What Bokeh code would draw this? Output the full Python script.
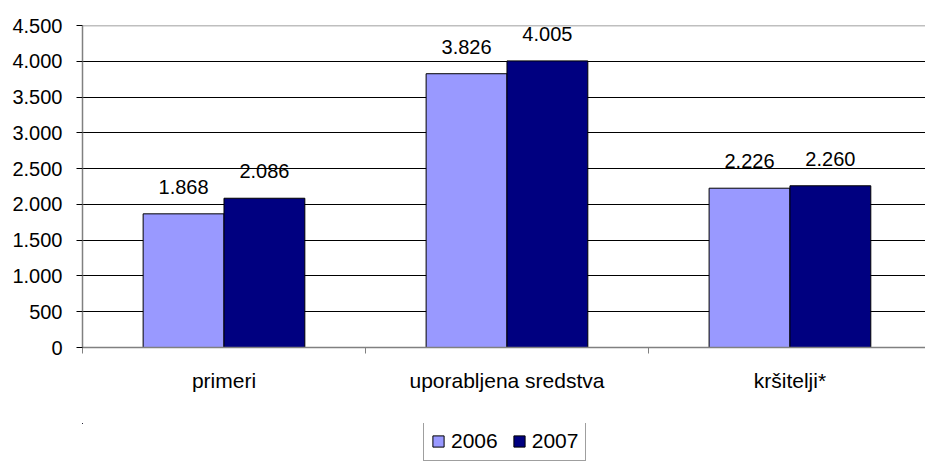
from bokeh.plotting import figure
from bokeh.models import (ColumnDataSource, FixedTicker, Range1d, LabelSet,
                          Legend, LegendItem, Span)
from bokeh.layouts import column
from bokeh.core.properties import value
from bokeh.embed import file_html
from bokeh.resources import INLINE

categories = ["primeri", "uporabljena sredstva", "kršitelji*"]
series_names = ["2006", "2007"]
values_2006 = [1868, 3826, 2226]
values_2007 = [2086, 4005, 2260]
y_ticks = [0, 500, 1000, 1500, 2000, 2500, 3000, 3500, 4000, 4500]
y_tick_labels = ["0", "500", "1.000", "1.500", "2.000", "2.500", "3.000",
                 "3.500", "4.000", "4.500"]
value_labels_2006 = ["1.868", "3.826", "2.226"]
value_labels_2007 = ["2.086", "4.005", "2.260"]

FONT = "Liberation Sans"
FS_NUM = "20px"
FS_TXT = "21px"
C2006 = "#9999FF"
C2007 = "#000080"

n = len(categories)
bar_w = 1 / 3.5
centers = [i + 0.5 for i in range(n)]
x06 = [c - bar_w / 2 for c in centers]
x07 = [c + bar_w / 2 for c in centers]

p = figure(width=925, height=423, output_backend="svg", toolbar_location=None,
           x_range=Range1d(0, 2.979), y_range=Range1d(0, y_ticks[-1]),
           min_border_left=82, min_border_right=0, min_border_top=25,
           min_border_bottom=76)
p.background_fill_color = "white"
p.border_fill_color = "white"
p.outline_line_color = None

src06 = ColumnDataSource(dict(x=x06, top=values_2006, lab=value_labels_2006))
src07 = ColumnDataSource(dict(x=x07, top=values_2007, lab=value_labels_2007))

p.vbar(x="x", top="top", width=bar_w, bottom=0, source=src06,
       fill_color=C2006, line_color="black", line_width=1)
p.vbar(x="x", top="top", width=bar_w, bottom=0, source=src07,
       fill_color=C2007, line_color="black", line_width=1)

for src in (src06, src07):
    p.add_layout(LabelSet(x="x", y="top", text="lab", source=src,
                          text_align="center", text_baseline="alphabetic",
                          y_offset=20, text_font=value(FONT),
                          text_font_size=FS_NUM, text_color="black"))

# grid
p.xgrid.visible = False
p.ygrid.ticker = FixedTicker(ticks=y_ticks[:-1])
p.ygrid.grid_line_color = "black"
p.ygrid.grid_line_width = 1
p.ygrid.level = "underlay"
# plot-area top border (grey)
p.add_layout(Span(location=y_ticks[-1], dimension="width",
                  line_color="#808080", line_width=1.5))

# y axis
p.yaxis.ticker = FixedTicker(ticks=y_ticks)
p.yaxis.major_label_overrides = {t: l for t, l in zip(y_ticks, y_tick_labels)}
p.yaxis.major_label_text_font = FONT
p.yaxis.major_label_text_font_size = FS_NUM
p.yaxis.major_label_text_color = "black"
p.yaxis.axis_line_color = "#808080"
p.yaxis.axis_line_width = 1.5
p.yaxis.major_tick_out = 6
p.yaxis.major_tick_in = 0
p.yaxis.major_tick_line_color = "black"
p.yaxis.minor_tick_line_color = None
p.yaxis.major_label_standoff = 14

# x axis: labels at category centres, tick marks at boundaries
p.xaxis.ticker = FixedTicker(ticks=centers, minor_ticks=list(range(n + 1)))
p.xaxis.major_label_overrides = {c: l for c, l in zip(centers, categories)}
p.xaxis.major_label_text_font = FONT
p.xaxis.major_label_text_font_size = FS_TXT
p.xaxis.major_label_text_color = "black"
p.xaxis.axis_line_color = "#808080"
p.xaxis.axis_line_width = 1.5
p.xaxis.major_tick_out = 0
p.xaxis.major_tick_in = 0
p.xaxis.minor_tick_out = 6
p.xaxis.minor_tick_in = 0
p.xaxis.minor_tick_line_color = "#808080"
p.xaxis.major_label_standoff = 15

# legend strip below the chart (its bars lie outside its visible range)
pl = figure(width=925, height=38, output_backend="svg", toolbar_location=None,
            x_range=Range1d(100, 101), y_range=Range1d(-20000, -10000),
            min_border_left=82, min_border_right=0, min_border_top=0,
            min_border_bottom=0)
pl.axis.visible = False
pl.grid.visible = False
pl.outline_line_color = None
l06 = pl.vbar(x=x06, top=values_2006, width=bar_w, bottom=0,
              fill_color=C2006, line_color="black")
l07 = pl.vbar(x=x07, top=values_2007, width=bar_w, bottom=0,
              fill_color=C2007, line_color="black")

legend = Legend(items=[LegendItem(label=series_names[0], renderers=[l06]),
                       LegendItem(label=series_names[1], renderers=[l07])],
                orientation="horizontal", location=(341, 0),
                label_text_font=FONT, label_text_font_size=FS_TXT,
                label_text_color="black",
                glyph_width=14, glyph_height=14, label_standoff=6,
                spacing=14, padding=7, margin=0,
                border_line_color="#404040", border_line_width=1,
                background_fill_alpha=1.0)
pl.add_layout(legend, "center")

layout = column(p, pl, spacing=0)
open("out.html", "w").write(file_html(layout, INLINE))
